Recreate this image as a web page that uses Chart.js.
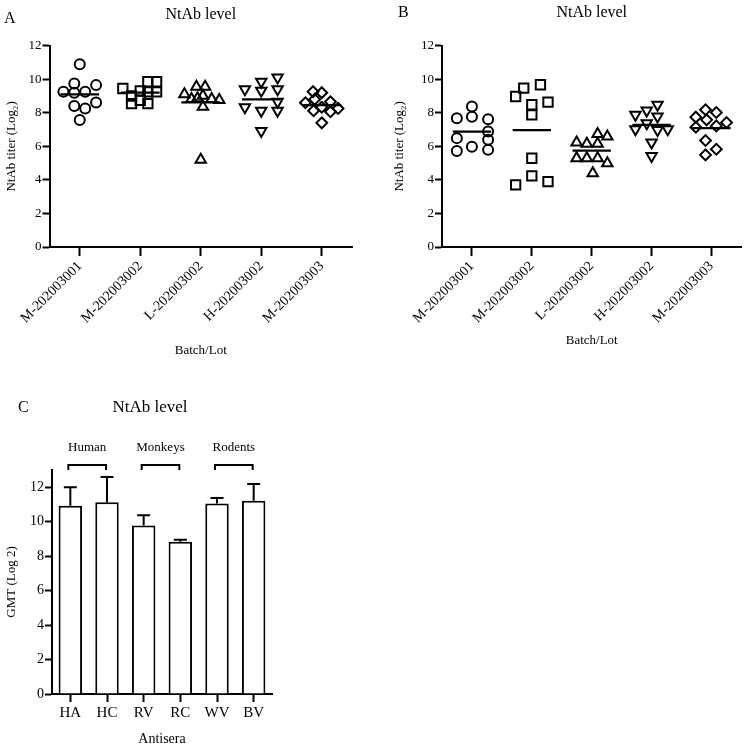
<!DOCTYPE html>
<html>
<head>
<meta charset="utf-8">
<script src="https://cdn.jsdelivr.net/npm/chart.js@4.4.1/dist/chart.umd.min.js"></script>
<style>
  body { margin: 0; background: #fff; }
  #wrap { position: relative; width: 750px; height: 748px; background: #fff; }
  canvas { position: absolute; }
</style>
</head>
<body>
<div id="wrap">
  <canvas id="chartA" width="375" height="372" style="left:0;top:0"></canvas>
  <canvas id="chartB" width="375" height="372" style="left:375px;top:0"></canvas>
  <canvas id="chartC" width="375" height="372" style="left:0;top:376px"></canvas>
</div>
<script>
// Batch / lot names (x axis of A and B)
const batches = ['M-202003001', 'M-202003002', 'L-202003002', 'H-202003002', 'M-202003003'];
const titerTicks = [0, 2, 4, 6, 8, 10, 12];

// Panel A - NtAb titer (Log2) per batch, with the column each dot sits in
const titerA1 = [10.9, 9.75, 9.65, 9.26, 9.2, 9.26, 8.62, 8.4, 8.26, 7.57];
const colA1 = [0, -0.5, 1.5, -1.5, -0.5, 0.5, 1.5, -0.5, 0.5, 0];
const titerA2 = [9.45, 9.0, 9.3, 8.55, 9.85, 9.85, 9.25, 9.25, 8.75, 8.55];
const colA2 = [-1.6, -0.8, 0, -0.8, 0.7, 1.5, 0.7, 1.5, 0, 0.7];
const titerA3 = [9.1, 9.55, 9.55, 8.82, 9.02, 8.82, 8.76, 8.36, 8.86, 5.2];
const colA3 = [-1.5, -0.4, 0.4, -0.85, 0.2, 1.0, 1.7, 0.2, -0.3, 0];
const titerA4 = [10.1, 9.85, 9.4, 9.32, 9.4, 8.66, 8.33, 8.12, 8.12, 6.91];
const colA4 = [1.5, 0, -1.5, 0, 1.5, 1.5, -1.5, 0, 1.5, 0];
const titerA5 = [9.26, 9.2, 8.8, 8.6, 8.66, 8.33, 8.12, 8.06, 8.26, 7.4];
const colA5 = [-0.8, 0, -0.65, -1.5, 0.8, 0, -0.75, 0.8, 1.5, 0];
const medianA = [9.1, 9.2, 8.62, 8.8, 8.46];

// Panel B
const titerB1 = [7.68, 8.37, 7.77, 7.62, 6.88, 6.49, 6.39, 5.72, 5.98, 5.79];
const colB1 = [-1.4, 0, 0, 1.5, 1.5, -1.4, 1.5, -1.4, 0, 1.5];
const titerB2 = [8.97, 9.47, 9.67, 8.48, 8.64, 7.88, 5.29, 4.24, 3.70, 3.90];
const colB2 = [-1.5, -0.75, 0.8, 0, 1.5, 0, 0, 0, -1.5, 1.5];
const titerB3 = [6.74, 6.58, 6.23, 6.15, 6.15, 5.29, 5.29, 5.29, 4.99, 4.39];
const colB3 = [0.55, 1.45, -1.4, -0.45, 0.55, -1.4, -0.45, 0.55, 1.45, 0.1];
const titerB4 = [7.88, 8.14, 8.48, 7.78, 7.38, 7.02, 6.98, 7.02, 6.23, 5.43];
const colB4 = [-1.5, -0.45, 0.55, 0.55, -0.45, -1.5, 0.55, 1.5, 0, 0];
const titerB5 = [8.18, 8.02, 7.74, 7.58, 7.42, 7.14, 7.22, 6.35, 5.83, 5.49];
const colB5 = [-0.55, 0.45, -1.45, -0.45, 1.4, -1.45, 0.45, -0.55, 0.45, -0.55];
const medianB = [6.88, 6.97, 5.75, 7.28, 7.09];

// Panel C - GMT (Log 2) per antiserum, upper SD
const antisera = ['HA', 'HC', 'RV', 'RC', 'WV', 'BV'];
const gmt = [10.93, 11.13, 9.78, 8.84, 11.05, 11.22];
const gmtSD = [1.07, 1.47, 0.6, 0.11, 0.33, 0.97];
const gmtTicks = [0, 2, 4, 6, 8, 10, 12];
const speciesLabels = ['Human', 'Monkeys', 'Rodents'];
const speciesFirst = [0, 2, 4];
const speciesLast = [1, 3, 5];

const SERIF = '"Liberation Serif", "Times New Roman", serif';
Chart.defaults.font.family = SERIF;
Chart.defaults.color = '#000';

// Marker look per batch column
const markerStyle = ['circle', 'rect', 'triangle', 'triangle', 'rectRot'];
const markerRotation = [0, 0, 0, 180, 0];
const markerRadius = [5, 6.6, 6, 6, 5.4];
const COL_WIDTH = 0.18; // one dot column, in category units
const MEDIAN_HALF = 0.32;

// Draws panel letters, titles and other free text
const panelText = {
  id: 'panelText',
  afterDraw(chart, args, opts) {
    const ctx = chart.ctx;
    ctx.save();
    ctx.fillStyle = '#000';
    ctx.textBaseline = 'middle';
    (opts.items || []).forEach(item => {
      ctx.font = item.size + 'px ' + SERIF;
      ctx.textAlign = item.align || 'center';
      const x = item.x === 'center' ? (chart.chartArea.left + chart.chartArea.right) / 2 : item.x;
      ctx.fillText(item.text, x, item.y);
    });
    ctx.restore();
  }
};

function buildScatter(groups, cols, medians) {
  const datasets = groups.map((vals, g) => ({
    type: 'scatter',
    data: vals.map((v, i) => ({ x: g + 1 + cols[g][i] * COL_WIDTH, y: v })),
    pointStyle: markerStyle[g],
    rotation: markerRotation[g],
    pointRadius: markerRadius[g],
    pointHoverRadius: markerRadius[g],
    borderColor: '#000',
    backgroundColor: 'rgba(0,0,0,0)',
    pointBorderWidth: 2,
    order: 2
  }));
  const medianData = [];
  medians.forEach((m, g) => {
    medianData.push({ x: g + 1 - MEDIAN_HALF, y: m });
    medianData.push({ x: g + 1 + MEDIAN_HALF, y: m });
    medianData.push({ x: g + 1.5, y: null });
  });
  datasets.push({
    type: 'line',
    data: medianData,
    borderColor: '#000',
    borderWidth: 2.2,
    pointRadius: 0,
    spanGaps: false,
    order: 1
  });
  return datasets;
}

function scatterOptions(cfg) {
  return {
    responsive: false,
    animation: false,
    devicePixelRatio: 1,
    layout: { padding: { left: cfg.padLeft, right: cfg.padRight, top: cfg.padTop, bottom: 0 } },
    plugins: {
      legend: { display: false },
      tooltip: { enabled: false },
      panelText: { items: cfg.texts }
    },
    scales: {
      x: {
        type: 'linear',
        min: 0.5,
        max: batches.length + 0.5,
        afterBuildTicks: s => { s.ticks = batches.map((_, i) => ({ value: i + 1 })); },
        afterFit: s => { s.height = cfg.xHeight; },
        ticks: {
          callback: v => batches[Math.round(v) - 1],
          autoSkip: false,
          minRotation: 45,
          maxRotation: 45,
          padding: 2,
          font: { size: 14 }
        },
        grid: { drawOnChartArea: false, tickLength: 9, tickWidth: 2, tickColor: '#000' },
        border: { color: '#000', width: 2 },
        title: { display: true, text: 'Batch/Lot', font: { size: 13 }, padding: { top: 0, bottom: cfg.xTitlePad } }
      },
      y: {
        min: 0,
        max: 12,
        afterBuildTicks: s => { s.ticks = titerTicks.map(v => ({ value: v })); },
        afterFit: s => { s.width = cfg.yWidth; },
        ticks: { padding: 1, font: { size: 13 } },
        grid: { drawOnChartArea: false, tickLength: 7, tickWidth: 2, tickColor: '#000' },
        border: { color: '#000', width: 2 },
        title: { display: true, text: 'NtAb titer (Log\u2082)', font: { size: 13 }, padding: { top: 4, bottom: 0 } }
      }
    }
  };
}

new Chart(document.getElementById('chartA'), {
  data: { datasets: buildScatter([titerA1, titerA2, titerA3, titerA4, titerA5], [colA1, colA2, colA3, colA4, colA5], medianA) },
  options: scatterOptions({
    padLeft: 0, padRight: 23, padTop: 45.7, yWidth: 49.5, xHeight: 125, xTitlePad: 14,
    texts: [
      { text: 'A', x: 4, y: 19, size: 16, align: 'left' },
      { text: 'NtAb level', x: 'center', y: 15, size: 16 }
    ]
  }),
  plugins: [panelText]
});

new Chart(document.getElementById('chartB'), {
  data: { datasets: buildScatter([titerB1, titerB2, titerB3, titerB4, titerB5], [colB1, colB2, colB3, colB4, colB5], medianB) },
  options: scatterOptions({
    padLeft: 13, padRight: 4, padTop: 45.7, yWidth: 54, xHeight: 125, xTitlePad: 24,
    texts: [
      { text: 'B', x: 23, y: 13, size: 16, align: 'left' },
      { text: 'NtAb level', x: 'center', y: 13, size: 16 }
    ]
  }),
  plugins: [panelText]
});

// Upper SD whiskers on the bars
const errorBars = {
  id: 'errorBars',
  afterDatasetsDraw(chart) {
    const ctx = chart.ctx;
    const meta = chart.getDatasetMeta(0);
    const y = chart.scales.y;
    ctx.save();
    ctx.strokeStyle = '#000';
    ctx.lineWidth = 2;
    meta.data.forEach((bar, i) => {
      const top = y.getPixelForValue(gmt[i] + gmtSD[i]);
      ctx.beginPath();
      ctx.moveTo(bar.x, bar.y);
      ctx.lineTo(bar.x, top);
      ctx.moveTo(bar.x - 6.5, top);
      ctx.lineTo(bar.x + 6.5, top);
      ctx.stroke();
    });
    ctx.restore();
  }
};

// Species brackets above the bars
const speciesBrackets = {
  id: 'speciesBrackets',
  afterDraw(chart) {
    const ctx = chart.ctx;
    const x = chart.scales.x;
    const top = chart.chartArea.top;
    ctx.save();
    ctx.strokeStyle = '#000';
    ctx.fillStyle = '#000';
    ctx.lineWidth = 2;
    ctx.font = '13px ' + SERIF;
    ctx.textAlign = 'center';
    ctx.textBaseline = 'middle';
    speciesLabels.forEach((lab, k) => {
      const x0 = x.getPixelForValue(speciesFirst[k]) - 2;
      const x1 = x.getPixelForValue(speciesLast[k]) - 1;
      ctx.beginPath();
      ctx.moveTo(x0, top);
      ctx.lineTo(x0, top - 5);
      ctx.lineTo(x1, top - 5);
      ctx.lineTo(x1, top);
      ctx.stroke();
      ctx.fillText(lab, (x0 + x1) / 2, top - 22);
    });
    ctx.restore();
  }
};

new Chart(document.getElementById('chartC'), {
  type: 'bar',
  data: {
    labels: antisera,
    datasets: [{
      data: gmt,
      backgroundColor: '#fff',
      borderColor: '#000',
      borderWidth: 2,
      barPercentage: 0.64,
      categoryPercentage: 1
    }]
  },
  options: {
    responsive: false,
    animation: false,
    devicePixelRatio: 1,
    layout: { padding: { left: 0, right: 103, top: 94, bottom: 0 } },
    plugins: {
      legend: { display: false },
      tooltip: { enabled: false },
      panelText: {
        items: [
          { text: 'C', x: 18, y: 32, size: 16, align: 'left' },
          { text: 'NtAb level', x: 150, y: 32, size: 17 }
        ]
      }
    },
    scales: {
      x: {
        afterFit: s => { s.height = 54; },
        ticks: { padding: 2, font: { size: 15 } },
        grid: { drawOnChartArea: false, offset: false, tickLength: 8, tickWidth: 2, tickColor: '#000' },
        border: { color: '#000', width: 2 },
        title: { display: true, text: 'Antisera', font: { size: 14 }, padding: { top: 0, bottom: 0 } }
      },
      y: {
        min: 0,
        max: 13,
        afterBuildTicks: s => { s.ticks = gmtTicks.map(v => ({ value: v })); },
        afterFit: s => { s.width = 52; },
        ticks: { padding: 1, font: { size: 14 } },
        grid: { drawOnChartArea: false, tickLength: 7, tickWidth: 2, tickColor: '#000' },
        border: { color: '#000', width: 2 },
        title: { display: true, text: 'GMT (Log 2)', font: { size: 13 }, padding: { top: 4, bottom: 0 } }
      }
    }
  },
  plugins: [panelText, errorBars, speciesBrackets]
});
</script>
</body>
</html>
